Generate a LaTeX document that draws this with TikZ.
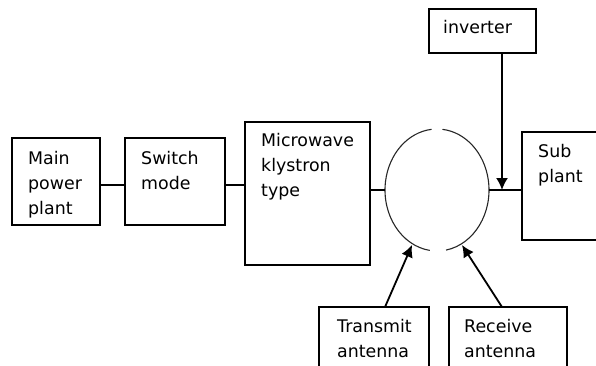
\documentclass[tikz,border=0pt]{standalone}
\usepackage{fontspec}
\setmainfont{DejaVu Sans}
\usetikzlibrary{arrows.meta}
\begin{document}
\begin{tikzpicture}[x=1pt,y=-1pt,
  box/.style={draw, line width=1.6pt, anchor=north west, inner sep=0pt, outer sep=0pt},
  lbl/.style={anchor=base west, inner sep=0pt, font=\fontsize{17.4}{25}\selectfont},
  conn/.style={line width=1.5pt},
  arr/.style={line width=1.8pt, -{Latex[length=12pt,width=12pt]}}]
\useasboundingbox (0,0) rectangle (596,365);
\clip (0,0) rectangle (596,365);
\node[box, minimum width=88pt, minimum height=87pt] (main) at (12,138) {};
\node[box, minimum width=100pt, minimum height=87pt] (switch) at (125,138) {};
\node[box, minimum width=125pt, minimum height=143pt] (kly) at (245,122) {};
\node[box, minimum width=107pt, minimum height=44pt] (inv) at (429,9) {};
\node[box, minimum width=90pt, minimum height=108pt] (sub) at (522,132) {};
\node[box, minimum width=110pt, minimum height=70pt] (tx) at (319,307) {};
\node[box, minimum width=118pt, minimum height=70pt] (rx) at (449,307) {};
% texts
\node[lbl] (t1) at (28,164) {Main};
\node[lbl] (t2) at (28,189) {power};
\node[lbl] (t3) at (28,214) {plant};
\node[lbl] (t4) at (141,164) {Switch};
\node[lbl] (t5) at (141,189) {mode};
\node[lbl] (t6) at (261,146) {Microwave};
\node[lbl] (t7) at (261,171) {klystron};
\node[lbl] (t8) at (261,196) {type};
\node[lbl] (t9) at (443,33) {inverter};
\node[lbl] (t10) at (538,157) {Sub};
\node[lbl] (t11) at (538,182) {plant};
\node[lbl] (t12) at (337,332) {Transmit};
\node[lbl] (t13) at (337,357) {antenna};
\node[lbl] (t14) at (464,332) {Receive};
\node[lbl] (t15) at (464,357) {antenna};
% splitter (two arcs)
\coordinate (cc) at (437,190);
\coordinate (cl) at (385,190);
\coordinate (cr) at (489,190);
\coordinate (j) at (502,190);
\coordinate (ta) at (412,245);
\coordinate (ra) at (462,245);
\draw[line width=1.1pt, black!85] ([shift={(-98:52pt and 61pt)}]cc) arc[start angle=-98, end angle=-264, x radius=52pt, y radius=61pt];
\draw[line width=1.1pt, black!85] ([shift={(-80:52pt and 61pt)}]cc) arc[start angle=-80, end angle=84, x radius=52pt, y radius=61pt];
% connectors
\draw[conn] (main.east |- 0,185) -- (switch.west |- 0,185);
\draw[conn] (switch.east |- 0,185) -- (kly.west |- 0,185);
\draw[conn] (kly.east |- cl) -- (cl);
\draw[conn] (cr) -- (sub.west |- cr);
\draw[arr] (inv.south -| j) -- (j);
\draw[arr] (tx.north -| 385,0) -- (ta);
\draw[arr] (rx.north -| 502,0) -- (ra);
\end{tikzpicture}
\end{document}
